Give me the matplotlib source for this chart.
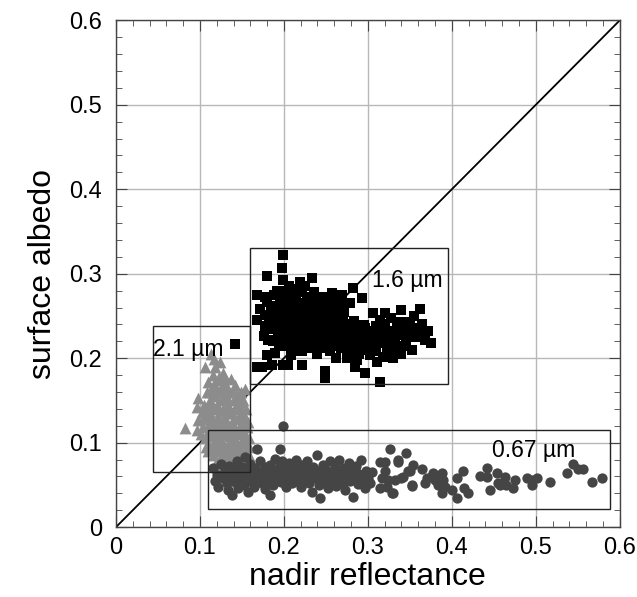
import matplotlib
matplotlib.use("Agg")
import matplotlib.pyplot as plt
from matplotlib.patches import Rectangle
from matplotlib.ticker import MultipleLocator

plt.rcParams['font.family'] = ['Liberation Sans', 'DejaVu Sans']

# ---- data ----
sq_x = [0.199,0.198,0.180,0.199,0.219,0.233,0.225,0.168,0.177,0.257,0.269,0.282,0.293,0.306,0.320,0.340,0.362,
        0.168,0.177,0.269,0.279,0.267,0.335,0.346,0.295,0.306,0.181,0.180,0.189,0.174,0.186,0.199,0.205,0.221,
        0.249,0.249,0.296,0.314,0.335,0.323,0.311,0.275,0.287,0.142,0.168,
        0.185,0.190,0.192,0.195,0.197,0.200,0.202,0.203,0.205,0.207,0.208,0.210,0.212,0.213,0.215,0.216,0.218,
        0.219,0.221,0.222,0.224,0.225,0.226,0.228,0.229,0.231,0.232,0.234,0.235,0.236,0.238,0.239,0.241,0.242,
        0.244,0.245,0.247,0.248,0.250,0.251,0.253,0.254,0.256,0.257,0.259,0.261,0.262,0.264,0.266,0.268,0.270,
        0.272,0.274,0.276,0.278,0.280,0.282,0.284,0.286,0.288,0.290,0.292,0.294,0.297,0.300,0.302,0.305,0.308,
        0.310,0.313,0.316,0.318,0.320,0.322,0.325,0.327,0.330,0.332,0.335,0.338,0.340,0.343,0.346,0.350,0.353,
        0.357,0.362,0.368,0.375,0.355,0.328,0.315,
        0.188,0.193,0.196,0.201,0.204,0.209,0.211,0.214,0.217,0.220,0.223,0.227,0.230,0.233,0.237,0.240,0.243,
        0.246,0.249,0.252,0.255,0.258,0.260,0.263,0.265,0.271,0.183,0.187,0.194,0.206,0.212,0.218,0.224,0.231,
        0.236,0.178,0.172,0.182,0.240,0.255,0.262,0.285,
        0.186,0.191,0.194,0.198,0.201,0.204,0.207,0.209,0.212,0.215,0.217,0.220,0.223,0.226,0.228,0.231,0.234,
        0.237,0.240,0.243,0.246,0.249,0.252,0.255,0.258,0.261,0.264,0.267,0.270,0.273,0.276,0.279,0.283,0.287,
        0.291,0.296,0.303,0.310,0.319,0.326,0.334,0.342,0.348,0.356,0.365,0.372,0.196,0.202,0.208,0.214,0.222,
        0.229,0.244,0.251,0.192,0.206,0.215,0.236,0.246,0.180,0.176]
sq_y = [0.322,0.307,0.297,0.292,0.290,0.295,0.286,0.275,0.272,0.277,0.275,0.283,0.271,0.254,0.254,0.257,0.258,
        0.245,0.251,0.249,0.265,0.266,0.243,0.243,0.239,0.231,0.221,0.204,0.206,0.189,0.192,0.192,0.192,0.192,
        0.185,0.176,0.183,0.172,0.207,0.212,0.195,0.200,0.198,0.217,0.189,
        0.262,0.250,0.238,0.270,0.228,0.258,0.245,0.280,0.215,0.235,0.265,0.252,0.224,0.274,0.242,0.208,0.260,
        0.232,0.250,0.278,0.218,0.240,0.265,0.230,0.255,0.246,0.272,0.212,0.236,0.260,0.225,0.250,0.268,0.240,
        0.228,0.256,0.218,0.245,0.262,0.232,0.250,0.222,0.240,0.258,0.230,0.214,0.248,0.238,0.225,0.212,0.232,
        0.222,0.240,0.215,0.228,0.208,0.220,0.235,0.212,0.225,0.205,0.218,0.228,0.210,0.222,0.204,0.215,0.225,
        0.208,0.218,0.230,0.202,0.240,0.222,0.210,0.232,0.200,0.225,0.215,0.235,0.205,0.228,0.218,0.238,0.210,
        0.225,0.232,0.222,0.218,0.250,0.248,0.245,
        0.275,0.232,0.244,0.236,0.254,0.244,0.270,0.258,0.248,0.240,0.258,0.248,0.262,0.242,0.252,0.235,0.262,
        0.236,0.252,0.242,0.268,0.245,0.255,0.230,0.245,0.255,0.234,0.220,0.215,0.225,0.236,0.226,0.228,0.222,
        0.215,0.238,0.258,0.248,0.205,0.208,0.200,0.190,
        0.243,0.262,0.253,0.240,0.268,0.232,0.258,0.276,0.246,0.266,0.238,0.256,0.246,0.236,0.268,0.256,0.250,
        0.240,0.258,0.248,0.226,0.240,0.256,0.234,0.252,0.240,0.256,0.236,0.244,0.230,0.238,0.226,0.244,0.232,
        0.226,0.236,0.232,0.238,0.228,0.220,0.228,0.214,0.228,0.236,0.240,0.232,0.222,0.214,0.204,0.214,0.208,
        0.214,0.212,0.216,0.280,0.286,0.282,0.278,0.272,0.266,0.226]

tri_x = [0.117,0.106,0.118,0.127,0.110,0.121,0.132,0.142,0.154,0.098,0.096,0.102,0.082,0.096,0.098,0.145,0.156,
         0.159,0.113,0.124,0.130,0.115,0.137,
         0.108,0.112,0.115,0.118,0.120,0.122,0.125,0.127,0.128,0.130,0.133,0.135,0.137,0.140,0.142,0.144,0.146,
         0.148,0.150,0.152,0.105,0.108,0.110,0.112,0.114,0.116,0.118,0.120,0.122,0.124,0.126,0.128,0.130,0.132,
         0.134,0.136,0.138,0.140,0.142,0.144,0.146,0.148,0.150,0.152,0.154,0.156,0.104,0.106,0.110,0.112,0.116,
         0.118,0.120,0.123,0.126,0.128,0.131,0.133,0.136,0.139,0.141,0.143,0.146,0.148,0.151,0.153,0.156,0.115,
         0.120,0.125,0.130,0.138,0.145,0.110,0.107,0.158,0.113,0.127,0.135,0.141,0.149,0.155,
         0.112,0.117,0.123,0.126,0.131,0.134,0.139,0.143,0.147,0.151,0.153,0.157,0.109,0.114,0.117,0.121,0.124,
         0.129,0.132,0.135,0.139,0.143,0.147,0.151,0.155,0.158,0.111,0.119,0.122,0.127,0.133,0.137,0.142,0.149,
         0.154,0.145,0.140,0.132,0.125,0.104,0.101]
tri_y = [0.199,0.189,0.189,0.183,0.172,0.174,0.164,0.168,0.164,0.153,0.142,0.136,0.117,0.115,0.127,0.115,0.118,
         0.106,0.205,0.195,0.176,0.180,0.175,
         0.160,0.150,0.165,0.155,0.145,0.160,0.150,0.170,0.140,0.155,0.145,0.160,0.135,0.150,0.140,0.158,0.130,
         0.148,0.138,0.125,0.145,0.130,0.120,0.135,0.110,0.125,0.140,0.115,0.130,0.105,0.120,0.128,0.110,0.135,
         0.098,0.118,0.125,0.105,0.128,0.095,0.110,0.120,0.100,0.112,0.090,0.100,0.118,0.105,0.098,0.108,0.095,
         0.102,0.090,0.095,0.085,0.098,0.088,0.080,0.090,0.082,0.092,0.075,0.085,0.072,0.080,0.070,0.078,0.085,
         0.078,0.072,0.068,0.070,0.065,0.090,0.095,0.085,0.145,0.112,0.140,0.118,0.160,0.140,
         0.160,0.170,0.178,0.162,0.168,0.152,0.160,0.150,0.140,0.150,0.132,0.125,0.140,0.128,0.115,0.122,0.138,
         0.118,0.125,0.108,0.112,0.102,0.095,0.105,0.108,0.095,0.115,0.105,0.100,0.092,0.090,0.100,0.085,0.088,
         0.082,0.078,0.072,0.075,0.080,0.128,0.110]

cir_x = [0.115,0.118,0.120,0.122,0.125,0.127,0.130,0.132,0.133,0.135,0.137,0.138,0.140,0.142,0.144,0.145,0.147,
         0.149,0.150,0.152,0.154,0.155,0.157,0.158,0.160,0.161,0.163,0.165,0.166,0.168,0.169,0.171,0.172,0.174,
         0.175,0.177,0.178,0.180,0.181,0.183,0.184,0.186,0.187,0.189,0.190,0.192,0.193,0.195,0.195,0.197,0.198,
         0.199,0.200,0.202,0.203,0.205,0.206,0.208,0.210,0.211,0.213,0.215,0.216,0.218,0.220,0.221,0.223,0.225,
         0.226,0.228,0.230,0.232,0.233,0.235,0.237,0.239,0.240,0.242,0.243,0.245,0.247,0.248,0.250,0.252,0.254,
         0.255,0.257,0.259,0.261,0.262,0.264,0.266,0.268,0.270,0.272,0.273,0.275,0.277,0.279,0.281,0.282,0.284,
         0.286,0.288,0.290,0.292,0.294,0.296,0.298,0.300,0.302,
         0.305,0.314,0.320,0.317,0.326,0.323,0.330,0.336,0.346,0.340,0.348,0.352,
         0.320,0.336,0.354,0.350,0.365,0.342,0.332,0.324,0.314,0.329,0.352,0.370,0.368,
         0.377,0.380,0.383,0.388,0.389,0.383,0.392,0.388,0.400,0.406,0.413,0.406,0.415,0.419,
         0.433,0.442,0.442,0.454,0.445,0.455,0.463,0.457,0.465,0.473,0.475,
         0.490,0.496,0.495,0.501,0.517,0.537,0.544,0.550,0.556,0.567,0.579]
cir_y = [0.070,0.055,0.062,0.048,0.075,0.058,0.066,0.052,0.044,0.072,0.060,0.038,0.068,0.054,0.078,0.046,0.064,
         0.057,0.071,0.050,0.083,0.062,0.042,0.068,0.075,0.055,0.061,0.048,0.070,0.092,0.058,0.065,0.078,0.052,
         0.060,0.071,0.045,0.066,0.056,0.038,0.074,0.062,0.050,0.068,0.081,0.058,0.064,0.093,0.072,0.054,0.078,
         0.120,0.062,0.070,0.047,0.058,0.076,0.066,0.052,0.071,0.060,0.080,0.055,0.067,0.048,0.073,0.062,0.057,
         0.069,0.078,0.052,0.063,0.042,0.071,0.058,0.085,0.066,0.050,0.034,0.061,0.074,0.055,0.068,0.046,0.060,
         0.078,0.053,0.065,0.071,0.049,0.058,0.080,0.063,0.052,0.070,0.044,0.060,0.076,0.055,0.066,0.036,0.059,
         0.072,0.051,0.063,0.079,0.056,0.046,0.067,0.058,0.052,
         0.065,0.077,0.067,0.058,0.093,0.047,0.041,0.079,0.088,0.058,0.067,0.050,
         0.077,0.077,0.073,0.066,0.069,0.059,0.056,0.056,0.046,0.041,0.049,0.058,0.052,
         0.064,0.056,0.059,0.064,0.056,0.050,0.047,0.041,0.044,0.058,0.067,0.034,0.046,0.040,
         0.060,0.070,0.059,0.064,0.044,0.052,0.059,0.050,0.050,0.046,0.056,
         0.058,0.056,0.050,0.058,0.054,0.064,0.075,0.069,0.069,0.054,0.058]

# boxes: (x0, y0, x1, y1) and labels
boxes = [(0.160, 0.170, 0.395, 0.331), (0.044, 0.065, 0.160, 0.238), (0.110, 0.022, 0.588, 0.115)]
labels = ["1.6 \u00b5m", "2.1 \u00b5m", "0.67 \u00b5m"]
label_pos = [(0.305, 0.292), (0.044, 0.210), (0.448, 0.091)]

fig = plt.figure(figsize=(6.37, 5.97), dpi=100)
ax = fig.add_axes([0.182, 0.117, 0.791, 0.849])

ax.set_xlim(0, 0.6)
ax.set_ylim(0, 0.6)
ax.grid(True, color='#b8b8b8', linewidth=1.0, zorder=0)
ax.set_axisbelow(True)

ax.plot([0, 0.6], [0, 0.6], color='black', linewidth=1.3, zorder=1)

ax.scatter(tri_x, tri_y, marker='^', s=72, color='#8c8c8c', linewidths=0, zorder=2)
ax.scatter(cir_x, cir_y, marker='o', s=55, color='#454545', linewidths=0, zorder=3)
ax.scatter(sq_x, sq_y, marker='s', s=55, color='black', linewidths=0, zorder=4)

for (x0, y0, x1, y1) in boxes:
    ax.add_patch(Rectangle((x0, y0), x1 - x0, y1 - y0, fill=False,
                           edgecolor='#222222', linewidth=1.0, zorder=5))
for lab, (lx, ly) in zip(labels, label_pos):
    ax.text(lx, ly, lab, fontsize=16.5, ha='left', va='center', zorder=6)

ax.xaxis.set_major_locator(MultipleLocator(0.1))
ax.yaxis.set_major_locator(MultipleLocator(0.1))
ax.xaxis.set_minor_locator(MultipleLocator(0.02))
ax.yaxis.set_minor_locator(MultipleLocator(0.02))
ax.tick_params(which='both', direction='in', top=True, right=True, color='#444444')
ax.tick_params(which='major', length=8, labelsize=17)
ax.tick_params(axis='x', which='major', pad=7)
ax.tick_params(axis='y', which='major', pad=10)
ax.tick_params(which='minor', length=4)

def fmt(v, pos):
    return "0" if abs(v) < 1e-9 else f"{v:.1f}"
ax.xaxis.set_major_formatter(plt.FuncFormatter(fmt))
ax.yaxis.set_major_formatter(plt.FuncFormatter(fmt))

for sp in ax.spines.values():
    sp.set_color('#444444')
    sp.set_linewidth(1.0)

ax.set_xlabel("nadir reflectance", fontsize=23, labelpad=2)
ax.set_ylabel("surface albedo", fontsize=23, labelpad=8)

fig.savefig("out.png", dpi=100)
